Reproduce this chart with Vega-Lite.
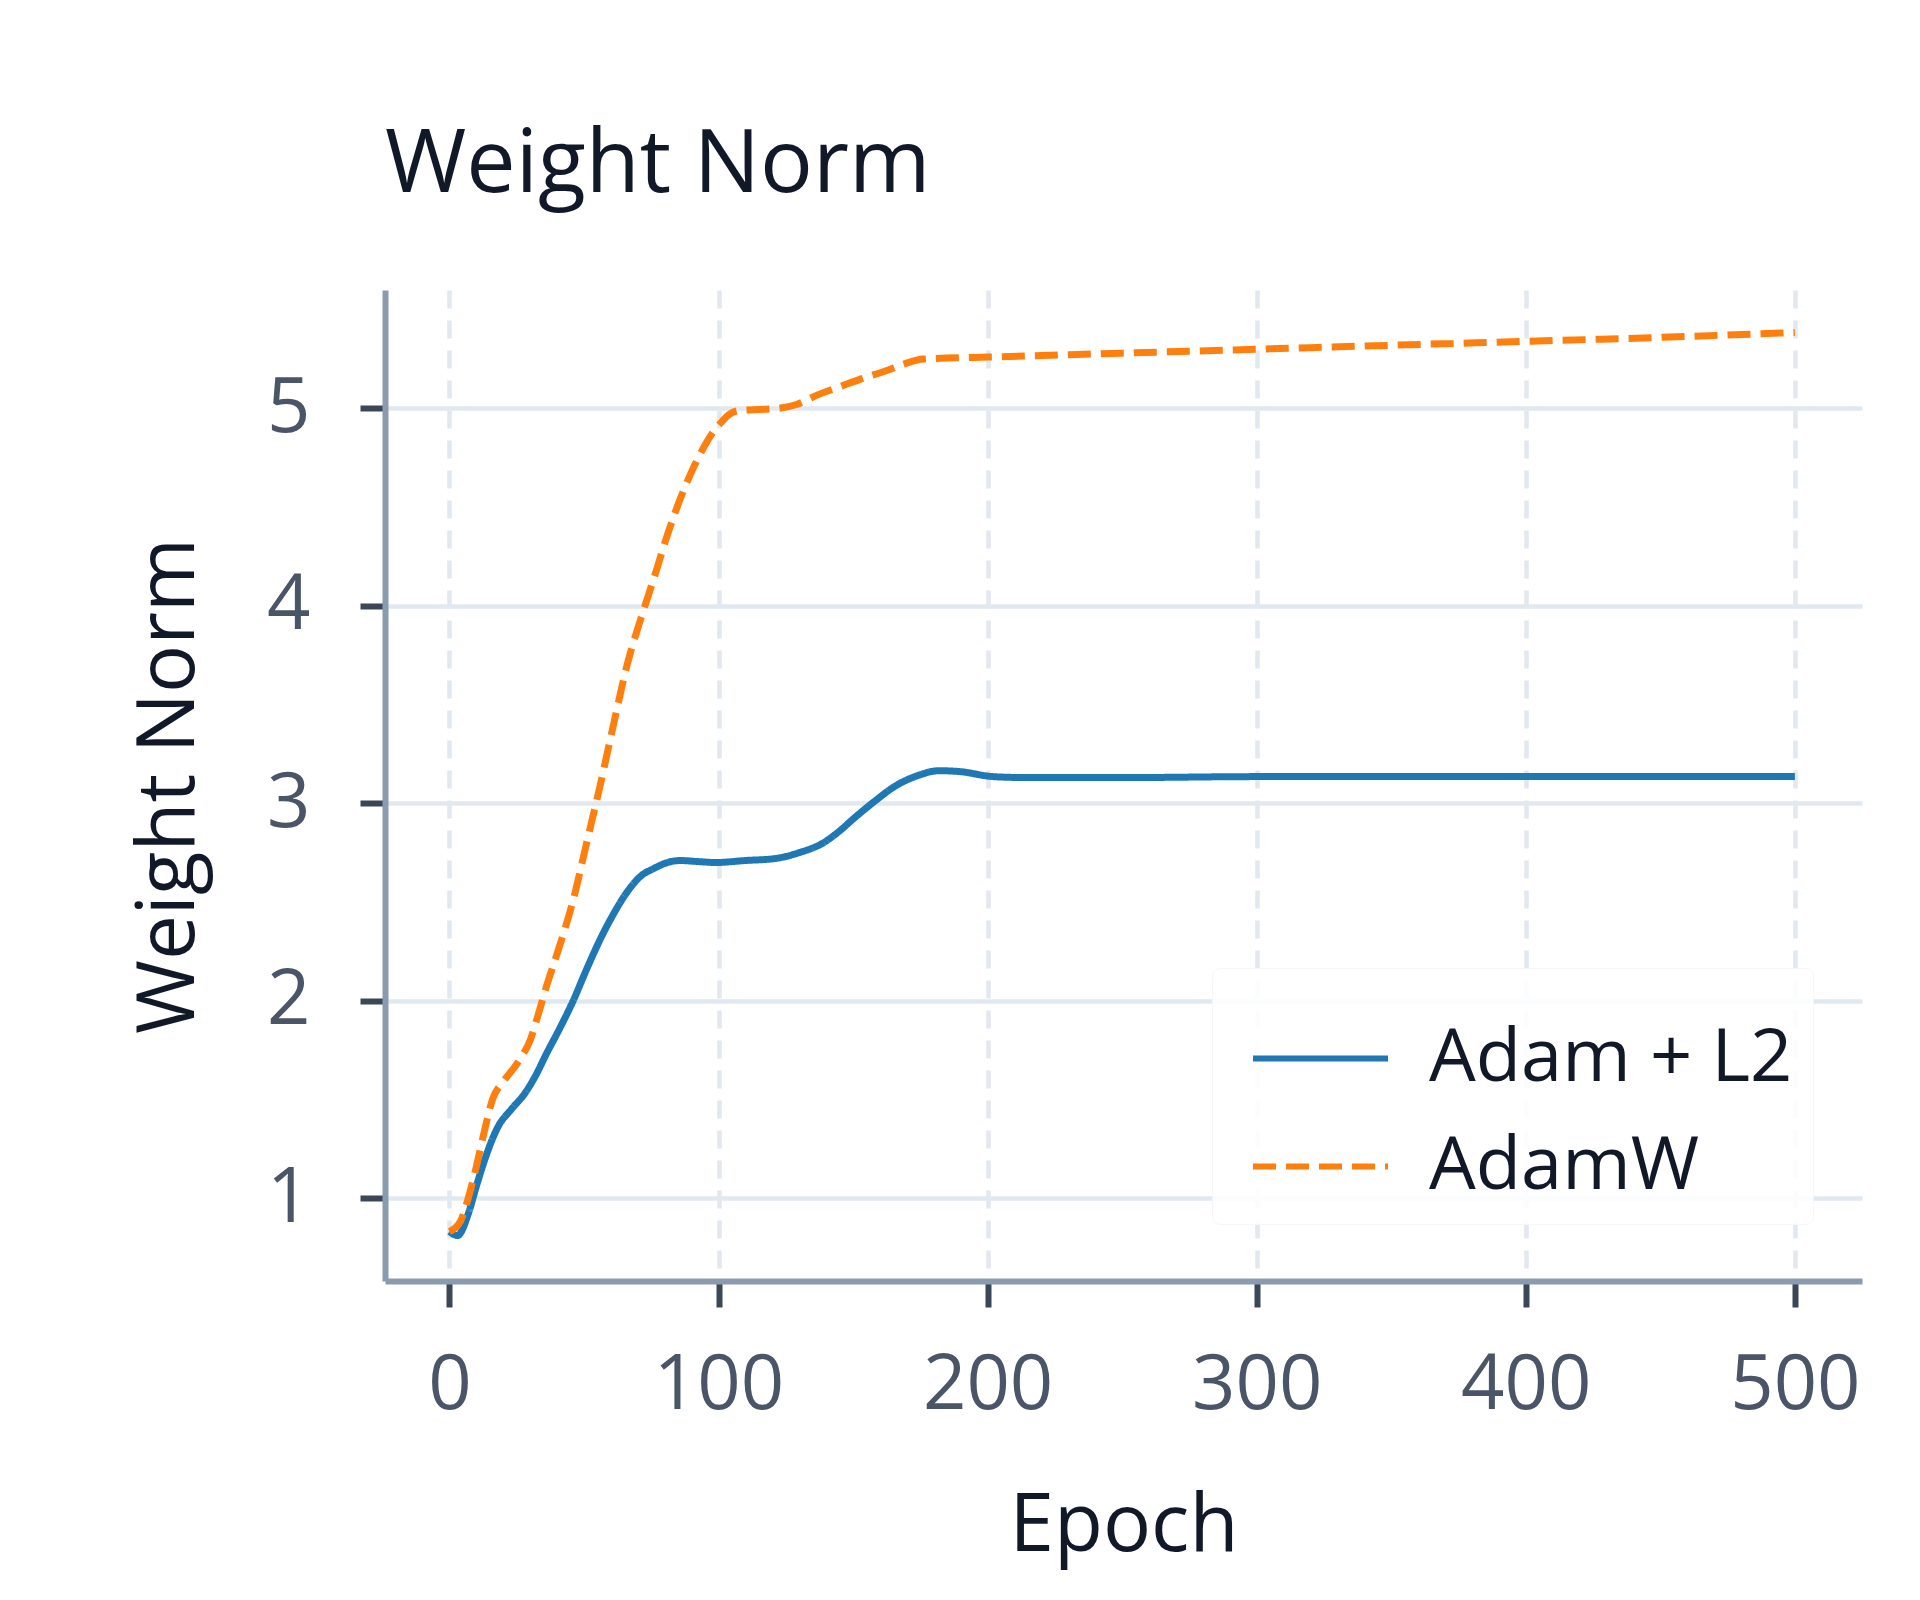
{
  "$schema": "https://vega.github.io/schema/vega-lite/v6.json",
  "width": 1477,
  "height": 991,
  "autosize": "none",
  "padding": {"left": 385, "top": 290, "right": 58, "bottom": 319},
  "background": "white",
  "title": {
    "text": "Weight Norm",
    "anchor": "start",
    "frame": "group",
    "font": "Open Sans",
    "fontSize": 88,
    "fontWeight": "normal",
    "color": "#111827",
    "baseline": "alphabetic",
    "offset": 10
  },
  "data": {
    "values": [
      {"epoch": 0, "norm": 0.83, "optimizer": "Adam + L2"},
      {"epoch": 3, "norm": 0.81, "optimizer": "Adam + L2"},
      {"epoch": 7, "norm": 0.92, "optimizer": "Adam + L2"},
      {"epoch": 10, "norm": 1.06, "optimizer": "Adam + L2"},
      {"epoch": 13, "norm": 1.19, "optimizer": "Adam + L2"},
      {"epoch": 18, "norm": 1.36, "optimizer": "Adam + L2"},
      {"epoch": 23, "norm": 1.45, "optimizer": "Adam + L2"},
      {"epoch": 28, "norm": 1.53, "optimizer": "Adam + L2"},
      {"epoch": 32, "norm": 1.62, "optimizer": "Adam + L2"},
      {"epoch": 36, "norm": 1.73, "optimizer": "Adam + L2"},
      {"epoch": 41, "norm": 1.86, "optimizer": "Adam + L2"},
      {"epoch": 46, "norm": 2.0, "optimizer": "Adam + L2"},
      {"epoch": 51, "norm": 2.16, "optimizer": "Adam + L2"},
      {"epoch": 56, "norm": 2.31, "optimizer": "Adam + L2"},
      {"epoch": 61, "norm": 2.44, "optimizer": "Adam + L2"},
      {"epoch": 66, "norm": 2.55, "optimizer": "Adam + L2"},
      {"epoch": 71, "norm": 2.63, "optimizer": "Adam + L2"},
      {"epoch": 76, "norm": 2.67, "optimizer": "Adam + L2"},
      {"epoch": 81, "norm": 2.7, "optimizer": "Adam + L2"},
      {"epoch": 86, "norm": 2.71, "optimizer": "Adam + L2"},
      {"epoch": 92, "norm": 2.705, "optimizer": "Adam + L2"},
      {"epoch": 99, "norm": 2.7, "optimizer": "Adam + L2"},
      {"epoch": 110, "norm": 2.71, "optimizer": "Adam + L2"},
      {"epoch": 121, "norm": 2.72, "optimizer": "Adam + L2"},
      {"epoch": 130, "norm": 2.75, "optimizer": "Adam + L2"},
      {"epoch": 139, "norm": 2.8, "optimizer": "Adam + L2"},
      {"epoch": 145, "norm": 2.86, "optimizer": "Adam + L2"},
      {"epoch": 150, "norm": 2.92, "optimizer": "Adam + L2"},
      {"epoch": 158, "norm": 3.01, "optimizer": "Adam + L2"},
      {"epoch": 166, "norm": 3.09, "optimizer": "Adam + L2"},
      {"epoch": 174, "norm": 3.14, "optimizer": "Adam + L2"},
      {"epoch": 182, "norm": 3.165, "optimizer": "Adam + L2"},
      {"epoch": 190, "norm": 3.16, "optimizer": "Adam + L2"},
      {"epoch": 202, "norm": 3.135, "optimizer": "Adam + L2"},
      {"epoch": 215, "norm": 3.13, "optimizer": "Adam + L2"},
      {"epoch": 250, "norm": 3.13, "optimizer": "Adam + L2"},
      {"epoch": 300, "norm": 3.135, "optimizer": "Adam + L2"},
      {"epoch": 350, "norm": 3.135, "optimizer": "Adam + L2"},
      {"epoch": 400, "norm": 3.135, "optimizer": "Adam + L2"},
      {"epoch": 450, "norm": 3.135, "optimizer": "Adam + L2"},
      {"epoch": 500, "norm": 3.135, "optimizer": "Adam + L2"},
      {"epoch": 0, "norm": 0.83, "optimizer": "AdamW"},
      {"epoch": 4, "norm": 0.88, "optimizer": "AdamW"},
      {"epoch": 7, "norm": 1.0, "optimizer": "AdamW"},
      {"epoch": 10, "norm": 1.16, "optimizer": "AdamW"},
      {"epoch": 13, "norm": 1.34, "optimizer": "AdamW"},
      {"epoch": 16, "norm": 1.5, "optimizer": "AdamW"},
      {"epoch": 20, "norm": 1.59, "optimizer": "AdamW"},
      {"epoch": 24, "norm": 1.66, "optimizer": "AdamW"},
      {"epoch": 27, "norm": 1.72, "optimizer": "AdamW"},
      {"epoch": 30, "norm": 1.8, "optimizer": "AdamW"},
      {"epoch": 33, "norm": 1.93, "optimizer": "AdamW"},
      {"epoch": 36, "norm": 2.07, "optimizer": "AdamW"},
      {"epoch": 41, "norm": 2.28, "optimizer": "AdamW"},
      {"epoch": 46, "norm": 2.51, "optimizer": "AdamW"},
      {"epoch": 51, "norm": 2.8, "optimizer": "AdamW"},
      {"epoch": 56, "norm": 3.09, "optimizer": "AdamW"},
      {"epoch": 61, "norm": 3.4, "optimizer": "AdamW"},
      {"epoch": 66, "norm": 3.7, "optimizer": "AdamW"},
      {"epoch": 71, "norm": 3.93, "optimizer": "AdamW"},
      {"epoch": 76, "norm": 4.14, "optimizer": "AdamW"},
      {"epoch": 81, "norm": 4.36, "optimizer": "AdamW"},
      {"epoch": 86, "norm": 4.55, "optimizer": "AdamW"},
      {"epoch": 90, "norm": 4.68, "optimizer": "AdamW"},
      {"epoch": 94, "norm": 4.79, "optimizer": "AdamW"},
      {"epoch": 98, "norm": 4.88, "optimizer": "AdamW"},
      {"epoch": 101, "norm": 4.93, "optimizer": "AdamW"},
      {"epoch": 104, "norm": 4.97, "optimizer": "AdamW"},
      {"epoch": 108, "norm": 4.99, "optimizer": "AdamW"},
      {"epoch": 115, "norm": 4.995, "optimizer": "AdamW"},
      {"epoch": 122, "norm": 5.0, "optimizer": "AdamW"},
      {"epoch": 129, "norm": 5.02, "optimizer": "AdamW"},
      {"epoch": 137, "norm": 5.07, "optimizer": "AdamW"},
      {"epoch": 145, "norm": 5.11, "optimizer": "AdamW"},
      {"epoch": 153, "norm": 5.15, "optimizer": "AdamW"},
      {"epoch": 162, "norm": 5.19, "optimizer": "AdamW"},
      {"epoch": 170, "norm": 5.23, "optimizer": "AdamW"},
      {"epoch": 176, "norm": 5.25, "optimizer": "AdamW"},
      {"epoch": 185, "norm": 5.255, "optimizer": "AdamW"},
      {"epoch": 200, "norm": 5.26, "optimizer": "AdamW"},
      {"epoch": 250, "norm": 5.28, "optimizer": "AdamW"},
      {"epoch": 300, "norm": 5.3, "optimizer": "AdamW"},
      {"epoch": 350, "norm": 5.32, "optimizer": "AdamW"},
      {"epoch": 400, "norm": 5.34, "optimizer": "AdamW"},
      {"epoch": 450, "norm": 5.36, "optimizer": "AdamW"},
      {"epoch": 500, "norm": 5.385, "optimizer": "AdamW"}
    ]
  },
  "mark": {"type": "line", "interpolate": "monotone", "strokeWidth": 7, "strokeCap": "butt"},
  "encoding": {
    "x": {
      "field": "epoch",
      "type": "quantitative",
      "scale": {"domain": [-23.95, 524.95], "nice": false, "zero": false},
      "axis": {
        "title": "Epoch",
        "values": [0, 100, 200, 300, 400, 500],
        "format": "d",
        "gridDash": [18, 12],
        "tickSize": 26,
        "labelPadding": 101,
        "labelBaseline": "alphabetic",
        "titleY": 269,
        "titleBaseline": "alphabetic"
      }
    },
    "y": {
      "field": "norm",
      "type": "quantitative",
      "scale": {"domain": [0.58, 5.6], "nice": false, "zero": false},
      "axis": {
        "title": "Weight Norm",
        "values": [1, 2, 3, 4, 5],
        "format": "d",
        "tickSize": 25,
        "labelPadding": 50,
        "titleAngle": 270,
        "titleX": -192,
        "titleY": 495.5,
        "titleAlign": "center",
        "titleBaseline": "alphabetic"
      }
    },
    "color": {
      "field": "optimizer",
      "type": "nominal",
      "scale": {"domain": ["Adam + L2", "AdamW"], "range": ["#1f77b4", "#ff7f0e"]},
      "legend": {
        "title": null,
        "orient": "none",
        "legendX": 827,
        "legendY": 678
      }
    },
    "strokeDash": {
      "field": "optimizer",
      "type": "nominal",
      "scale": {"domain": ["Adam + L2", "AdamW"], "range": [[1, 0], [23, 10]]},
      "legend": {
        "title": null,
        "orient": "none",
        "legendX": 827,
        "legendY": 678
      }
    }
  },
  "config": {
    "view": {"stroke": null},
    "font": "Open Sans",
    "axis": {
      "domainColor": "#8a9ab0",
      "domainWidth": 6,
      "tickColor": "#3b4756",
      "tickWidth": 6,
      "labelFont": "Open Sans",
      "labelFontSize": 76,
      "labelColor": "#4a5568",
      "labelOverlap": false,
      "labelFlush": false,
      "gridColor": "#e2e8f0",
      "gridWidth": 4.5,
      "titleFont": "Open Sans",
      "titleFontSize": 80,
      "titleFontWeight": "normal",
      "titleColor": "#111827"
    },
    "legend": {
      "symbolType": "stroke",
      "symbolSize": 18225,
      "symbolStrokeWidth": 6,
      "symbolOffset": 18,
      "labelFont": "Open Sans",
      "labelFontSize": 74,
      "labelColor": "#111827",
      "labelLimit": 1000,
      "labelOffset": 38,
      "padding": 20,
      "rowPadding": -27,
      "fillColor": "rgba(255,255,255,0.85)",
      "strokeColor": "#f7f7f7",
      "cornerRadius": 8
    }
  }
}
